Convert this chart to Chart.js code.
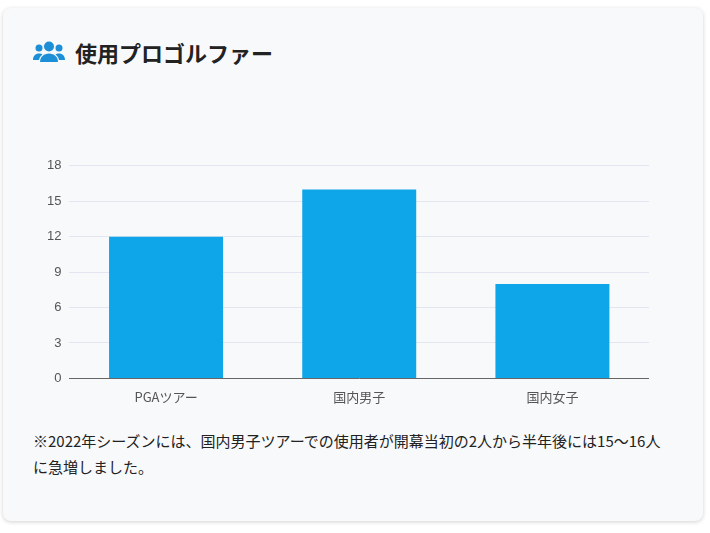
<!DOCTYPE html>
<html><head><meta charset="utf-8">
<script src="https://cdn.jsdelivr.net/npm/chart.js@4"></script>
<style>
body{margin:0;background:#fff;font-family:"Noto Sans CJK JP","Noto Sans",sans-serif;}
.card{position:absolute;left:3px;top:8px;width:700px;height:513px;background:#f8f9fb;border-radius:8px;box-shadow:0 1px 4px rgba(0,0,0,.18);}
h2{position:absolute;left:30px;top:28px;margin:0;font-size:22px;font-weight:700;color:#222;display:flex;align-items:center;}
h2 svg{margin-right:10px}
.chart{position:absolute;left:36px;top:142px;width:610px;height:258px;}
p{position:absolute;left:30px;top:420px;width:628px;margin:0;font-size:15px;line-height:26px;color:#222;}
</style></head><body>
<div class="card">
<h2><svg width="32" height="24" viewBox="0 0 32 24"><g fill="#1d8fd6"><circle cx="16" cy="6.5" r="5"/><path d="M7 22c0-5 4-8.5 9-8.5s9 3.5 9 8.5z"/><circle cx="6" cy="8" r="3.5"/><circle cx="26" cy="8" r="3.5"/><path d="M0 20c0-4 2.5-6.5 6-6.5 1.5 0 2.5.4 3.5 1-2 1.5-3.2 3.2-3.5 5.5z"/><path d="M32 20c0-4-2.5-6.5-6-6.5-1.5 0-2.5.4-3.5 1 2 1.5 3.2 3.2 3.5 5.5z"/></g></svg>使用プロゴルファー</h2>
<div class="chart"><canvas id="c"></canvas></div>
<p>※2022年シーズンには、国内男子ツアーでの使用者が開幕当初の2人から半年後には15〜16人に急増しました。</p>
</div>
<script>
var categories = ['PGAツアー', '国内男子', '国内女子'];
var golfers = [12, 16, 8];
var yMax = 18, yStep = 3;

var ctx = document.getElementById('c').getContext('2d');
new Chart(ctx, {
    type: 'bar',
    data: {
        labels: categories,
        datasets: [{
            label: '使用プロゴルファー',
            data: golfers,
            backgroundColor: '#0ea5e9',
            barPercentage: 0.59,
            categoryPercentage: 1
        }]
    },
    options: {
        responsive: true,
        maintainAspectRatio: false,
        animation: false,
        plugins: { legend: { display: false }, tooltip: { enabled: false } },
        scales: {
            x: {
                grid: { display: false },
                border: { color: '#666' },
                ticks: { color: '#555', font: { size: 13, family: '"Noto Sans CJK JP"' } }
            },
            y: {
                min: 0, max: yMax,
                ticks: { stepSize: yStep, color: '#555', font: { size: 13 }, padding: 8 },
                grid: { color: '#e3e6f0', drawTicks: false },
                border: { display: false }
            }
        }
    }
});
</script>
</body></html>
